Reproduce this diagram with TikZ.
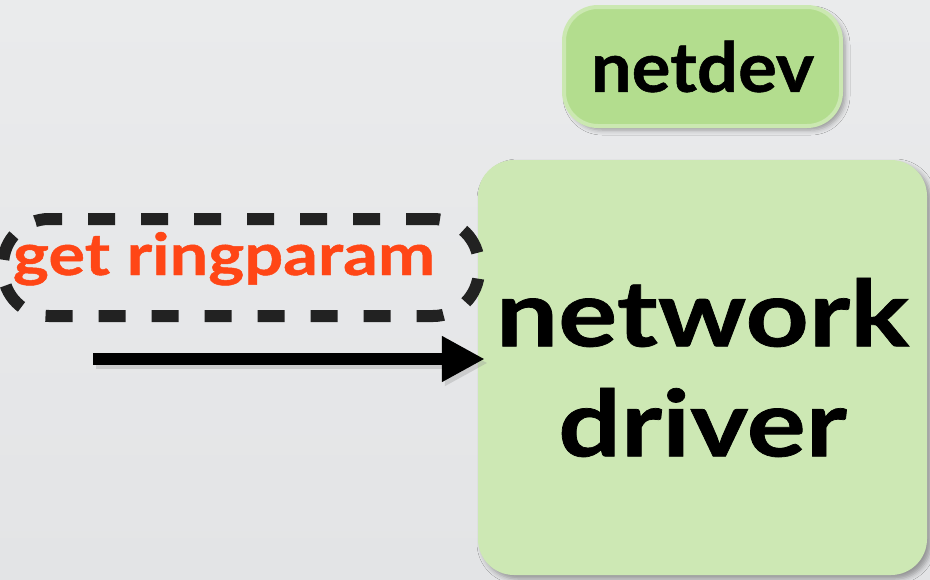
\documentclass[tikz,border=0pt]{standalone}
\usepackage{fontspec}
\setmainfont{Lato}
\usetikzlibrary{arrows.meta,shadows.blur}
\definecolor{bgtop}{HTML}{EAEBEC}
\definecolor{bgbot}{HTML}{E3E4E6}
\definecolor{devfill}{HTML}{B3DD8E}
\definecolor{devrim}{HTML}{CBE8B1}
\definecolor{drvfill}{HTML}{CDE8B4}
\definecolor{callred}{HTML}{FF4616}
\definecolor{dashgray}{HTML}{222222}
% a wide, heavy bold face for the labels
\newcommand{\heavyface}[1]{\bfseries\addfontfeatures{FakeStretch=#1,FakeBold=0.8}}
\tikzset{
  softshadow/.style={blur shadow={shadow xshift=4pt, shadow yshift=-4pt,
      shadow blur radius=5pt, shadow opacity=35}},
  devbox/.style={rectangle, rounded corners=34pt, fill=devfill, draw=devrim,
      line width=4pt, minimum width=277pt, minimum height=119pt, softshadow,
      font=\fontsize{69}{69}\selectfont\heavyface{1.05}, text=black},
  drvbox/.style={rectangle, rounded corners=36pt, fill=drvfill,
      minimum width=449pt, minimum height=415pt, softshadow,
      font=\fontsize{92}{110}\selectfont\heavyface{1.2}, align=center, text=black},
  callring/.style={rectangle, rounded corners=46pt, draw=dashgray,
      line width=12pt, dash pattern=on 27pt off 26pt,
      minimum width=476pt, minimum height=97pt},
  calltext/.style={font=\fontsize{58}{58}\selectfont\heavyface{1.18}, text=callred},
  callarrow/.style={line width=12pt, -{Triangle[length=43pt,width=43pt]}},
}
\begin{document}
\begin{tikzpicture}[x=1pt,y=-1pt]
  % backdrop
  \shade[top color=bgtop, bottom color=bgbot] (0,0) rectangle (930,579);
  \useasboundingbox (0,0) rectangle (930,579);

  % the two driver-side boxes
  \node[devbox] (netdev) at (702.5,66.5) {netdev};
  \node[drvbox] (driver) at (702.5,367.5) {network\\driver};

  % dashed call bubble with its label
  \node[callring] (ring) at (241,267.5) {};
  \node[calltext, anchor=base] (call) at (224,275) {get ringparam};

  % request arrow into the driver
  \coordinate (start) at (93,359);
  \draw[callarrow, black!40, opacity=0.35, transform canvas={xshift=3pt,yshift=-4pt}]
    (start) -- ([xshift=7pt]driver.west |- start);
  \draw[callarrow] (start) -- ([xshift=7pt]driver.west |- start);
\end{tikzpicture}
\end{document}
